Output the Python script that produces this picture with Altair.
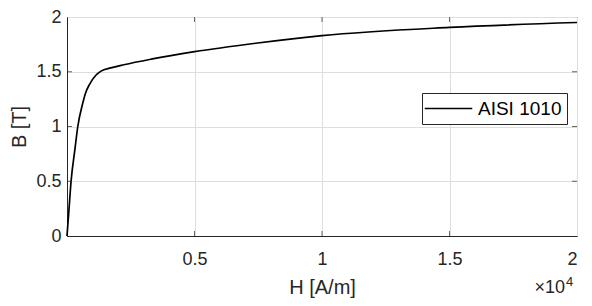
import altair as alt
import pandas as pd

# B-H curve readings
H_values = [0, 80, 160, 315, 423, 615, 718, 885, 1141, 1333, 1718, 2230, 3300, 5000, 7400, 10000, 15000, 20000]
B_values = [0, 0.25, 0.50, 0.80, 1.00, 1.21, 1.30, 1.385, 1.47, 1.506, 1.535, 1.564, 1.615, 1.683, 1.76, 1.83, 1.905, 1.95]
series_name = "AISI 1010"
x_ticks = [5000, 10000, 15000, 20000]
y_ticks = [0, 0.5, 1, 1.5, 2]
x_inner_ticks = [5000, 10000, 15000]
y_inner_ticks = [0.5, 1, 1.5]

FONT = "Liberation Sans"
TXT = "#262626"

df = pd.DataFrame({"H": H_values, "B": B_values, "series": [series_name] * len(H_values)})

xscale = alt.Scale(domain=[0, 20000], nice=False, zero=False)
yscale = alt.Scale(domain=[0, 2], nice=False)

line = alt.Chart(df).mark_line(strokeWidth=1.7, interpolate="monotone").encode(
    x=alt.X("H:Q", scale=xscale,
            axis=alt.Axis(title="H [A/m]", values=x_ticks,
                          labelExpr="format(datum.value/10000, '~g')",
                          grid=True, ticks=False, labelPadding=14, titlePadding=9)),
    y=alt.Y("B:Q", scale=yscale,
            axis=alt.Axis(title="B [T]", values=y_ticks, format="~g",
                          grid=True, ticks=False, labelPadding=6, titlePadding=6)),
    color=alt.Color("series:N", scale=alt.Scale(range=["black"]),
                    legend=alt.Legend(title=None, orient="none", legendX=355, legendY=76,
                                      symbolType="M-2.5,0H2.5", symbolSize=361,
                                      symbolStrokeWidth=1.7, symbolOffset=11,
                                      strokeColor=TXT, fillColor="white", padding=5,
                                      labelOffset=19, labelFontSize=19, labelFont=FONT,
                                      labelColor="black")),
)

xt = pd.DataFrame({"v": x_inner_ticks})
yt = pd.DataFrame({"v": y_inner_ticks})

bottom_ticks = alt.Chart(xt).mark_tick(orient="vertical", size=5, thickness=1, color=TXT, yOffset=-2.5).encode(
    x=alt.X("v:Q", scale=xscale), y=alt.datum(0, scale=yscale))
top_ticks = alt.Chart(xt).mark_tick(orient="vertical", size=5, thickness=1, color=TXT, yOffset=2.5).encode(
    x=alt.X("v:Q", scale=xscale), y=alt.datum(2, scale=yscale))
left_ticks = alt.Chart(yt).mark_tick(orient="horizontal", size=5, thickness=1, color=TXT, xOffset=2.5).encode(
    y=alt.Y("v:Q", scale=yscale), x=alt.datum(0, scale=xscale))
right_ticks = alt.Chart(yt).mark_tick(orient="horizontal", size=5, thickness=1, color=TXT, xOffset=-2.5).encode(
    y=alt.Y("v:Q", scale=yscale), x=alt.datum(20000, scale=xscale))

exp_base = alt.Chart(pd.DataFrame({"t": ["×10"]})).mark_text(
    align="right", baseline="alphabetic", font=FONT, fontSize=18, color=TXT, dx=-12, dy=57).encode(
    x=alt.datum(20000, scale=xscale), y=alt.datum(0, scale=yscale), text="t:N")
exp_pow = alt.Chart(pd.DataFrame({"t": ["4"]})).mark_text(
    align="left", baseline="alphabetic", font=FONT, fontSize=13, color=TXT, dx=-11, dy=50).encode(
    x=alt.datum(20000, scale=xscale), y=alt.datum(0, scale=yscale), text="t:N")

chart = alt.layer(line, bottom_ticks, top_ticks, left_ticks, right_ticks, exp_base, exp_pow).properties(
    width=510, height=219,
    autosize=alt.AutoSizeParams(type="none"),
    padding={"left": 59, "top": 9, "right": 7, "bottom": 62},
    background="white",
).configure_view(stroke=TXT, strokeWidth=1).configure_axis(
    domainColor=TXT, domainWidth=1, gridColor="#dedede", gridWidth=1,
    labelFont=FONT, labelFontSize=18, labelColor=TXT,
    titleFont=FONT, titleFontSize=20, titleColor=TXT, titleFontWeight="normal",
)

chart.save("out.html", embed_options={"renderer": "svg", "actions": False})
